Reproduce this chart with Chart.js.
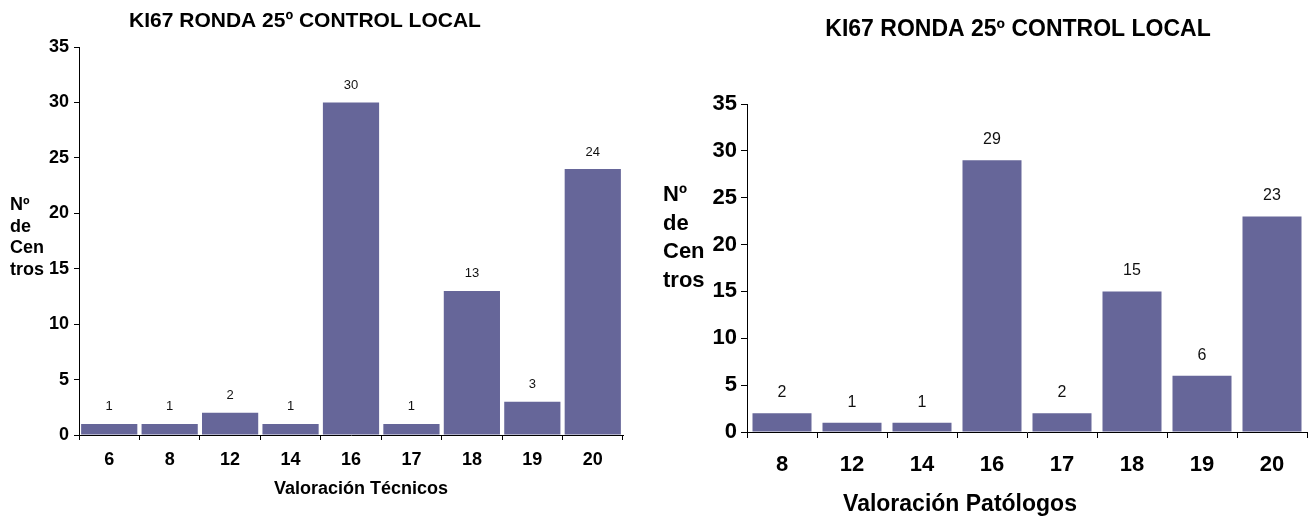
<!DOCTYPE html>
<html lang="es">
<head>
<meta charset="utf-8">
<title>KI67 RONDA 25º CONTROL LOCAL</title>
<script src="https://cdn.jsdelivr.net/npm/chart.js@4.4.1/dist/chart.umd.min.js"></script>
<style>
  html, body { margin: 0; padding: 0; background: #fff; }
  #wrap { position: relative; width: 1314px; height: 518px; overflow: hidden; }
  canvas { position: absolute; top: 0; }
  #tec { left: 0; }
  #pat { left: 654px; }
</style>
</head>
<body>
<div id="wrap">
  <canvas id="tec" width="654" height="518"></canvas>
  <canvas id="pat" width="660" height="518"></canvas>
</div>
<script>
// Valoración de técnicos
const tecCategories = ['6', '8', '12', '14', '16', '17', '18', '19', '20'];
const tecCentros = [1, 1, 2, 1, 30, 1, 13, 3, 24];

// Valoración de patólogos
const patCategories = ['8', '12', '14', '16', '17', '18', '19', '20'];
const patCentros = [2, 1, 1, 29, 2, 15, 6, 23];

const chartTitle = 'KI67 RONDA 25º CONTROL LOCAL';
const yTitleLines = ['Nº', 'de', 'Cen', 'tros'];
const yTicks = { min: 0, max: 35, step: 5 };

const FONT = '"Liberation Sans", Arial, sans-serif';
const BAR = '#666699';

// Draws the panel title, the stacked y-axis caption, the x-axis caption
// and the value above each bar.
const panelText = {
  id: 'panelText',
  afterDatasetsDraw(chart, args, o) {
    const ctx = chart.ctx;
    ctx.save();
    ctx.fillStyle = '#000';
    ctx.textBaseline = 'middle';

    ctx.font = `bold ${o.titleSize}px ${FONT}`;
    ctx.textAlign = 'center';
    ctx.fillText(o.title, o.titleX, o.titleY);

    ctx.font = `bold ${o.xTitleSize}px ${FONT}`;
    ctx.fillText(o.xTitle, o.xTitleX, o.xTitleY);

    ctx.font = `bold ${o.yTitleSize}px ${FONT}`;
    ctx.textAlign = 'left';
    o.yTitle.forEach((line, i) => {
      ctx.fillText(line, o.yTitleX, o.yTitleY + i * o.yTitleStep);
    });

    ctx.font = `${o.valueSize}px ${FONT}`;
    ctx.textAlign = 'center';
    ctx.fillStyle = '#111';
    const meta = chart.getDatasetMeta(0);
    const values = chart.data.datasets[0].data;
    meta.data.forEach((bar, i) => {
      ctx.fillText(String(values[i]), bar.x, bar.y - o.valueGap);
    });
    ctx.restore();
  }
};

function makeChart(id, labels, values, cfg) {
  return new Chart(document.getElementById(id), {
    type: 'bar',
    data: {
      labels: labels,
      datasets: [{
        data: values,
        backgroundColor: BAR,
        borderWidth: 0,
        barPercentage: cfg.barPct,
        categoryPercentage: 1
      }]
    },
    options: {
      responsive: false,
      animation: false,
      devicePixelRatio: 1,
      layout: { padding: cfg.padding },
      plugins: {
        legend: { display: false },
        title: { display: false },
        tooltip: { enabled: false },
        panelText: cfg.text
      },
      scales: {
        x: {
          grid: { drawOnChartArea: false, drawTicks: true, tickLength: cfg.tickLen, color: '#000', offset: true },
          border: { display: true, color: '#000', width: 1 },
          ticks: { color: '#000', padding: cfg.xPad, font: { family: FONT, size: cfg.tickSize, weight: 'bold' } },
          afterFit: s => { s.height = cfg.xHeight; }
        },
        y: {
          min: yTicks.min,
          max: yTicks.max,
          grid: { drawOnChartArea: false, drawTicks: true, tickLength: cfg.tickLen, color: '#000' },
          border: { display: true, color: '#000', width: 1 },
          ticks: { stepSize: yTicks.step, color: '#000', padding: cfg.yPad, font: { family: FONT, size: cfg.tickSize, weight: 'bold' } },
          afterFit: s => { s.width = cfg.yWidth; }
        }
      }
    },
    plugins: [panelText]
  });
}

makeChart('tec', tecCategories, tecCentros, {
  barPct: 0.93,
  padding: { left: 0, right: 31, top: 47, bottom: 0 },
  tickLen: 5, xPad: 9, yPad: 5, tickSize: 18,
  xHeight: 83, yWidth: 79,
  text: {
    title: chartTitle, titleSize: 21, titleX: 305, titleY: 21,
    xTitle: 'Valoración Técnicos', xTitleSize: 18, xTitleX: 361, xTitleY: 489,
    yTitle: yTitleLines, yTitleSize: 18, yTitleX: 10, yTitleY: 205, yTitleStep: 21.7,
    valueSize: 13, valueGap: 17
  }
});

makeChart('pat', patCategories, patCentros, {
  barPct: 0.843,
  padding: { left: 0, right: 7, top: 104, bottom: 0 },
  tickLen: 6, xPad: 14, yPad: 4, tickSize: 22,
  xHeight: 86, yWidth: 93,
  text: {
    title: chartTitle, titleSize: 23, titleX: 364, titleY: 30,
    xTitle: 'Valoración Patólogos', xTitleSize: 23, xTitleX: 306, xTitleY: 505,
    yTitle: yTitleLines, yTitleSize: 22, yTitleX: 9, yTitleY: 195, yTitleStep: 28.5,
    valueSize: 16, valueGap: 20.5
  }
});
</script>
</body>
</html>
